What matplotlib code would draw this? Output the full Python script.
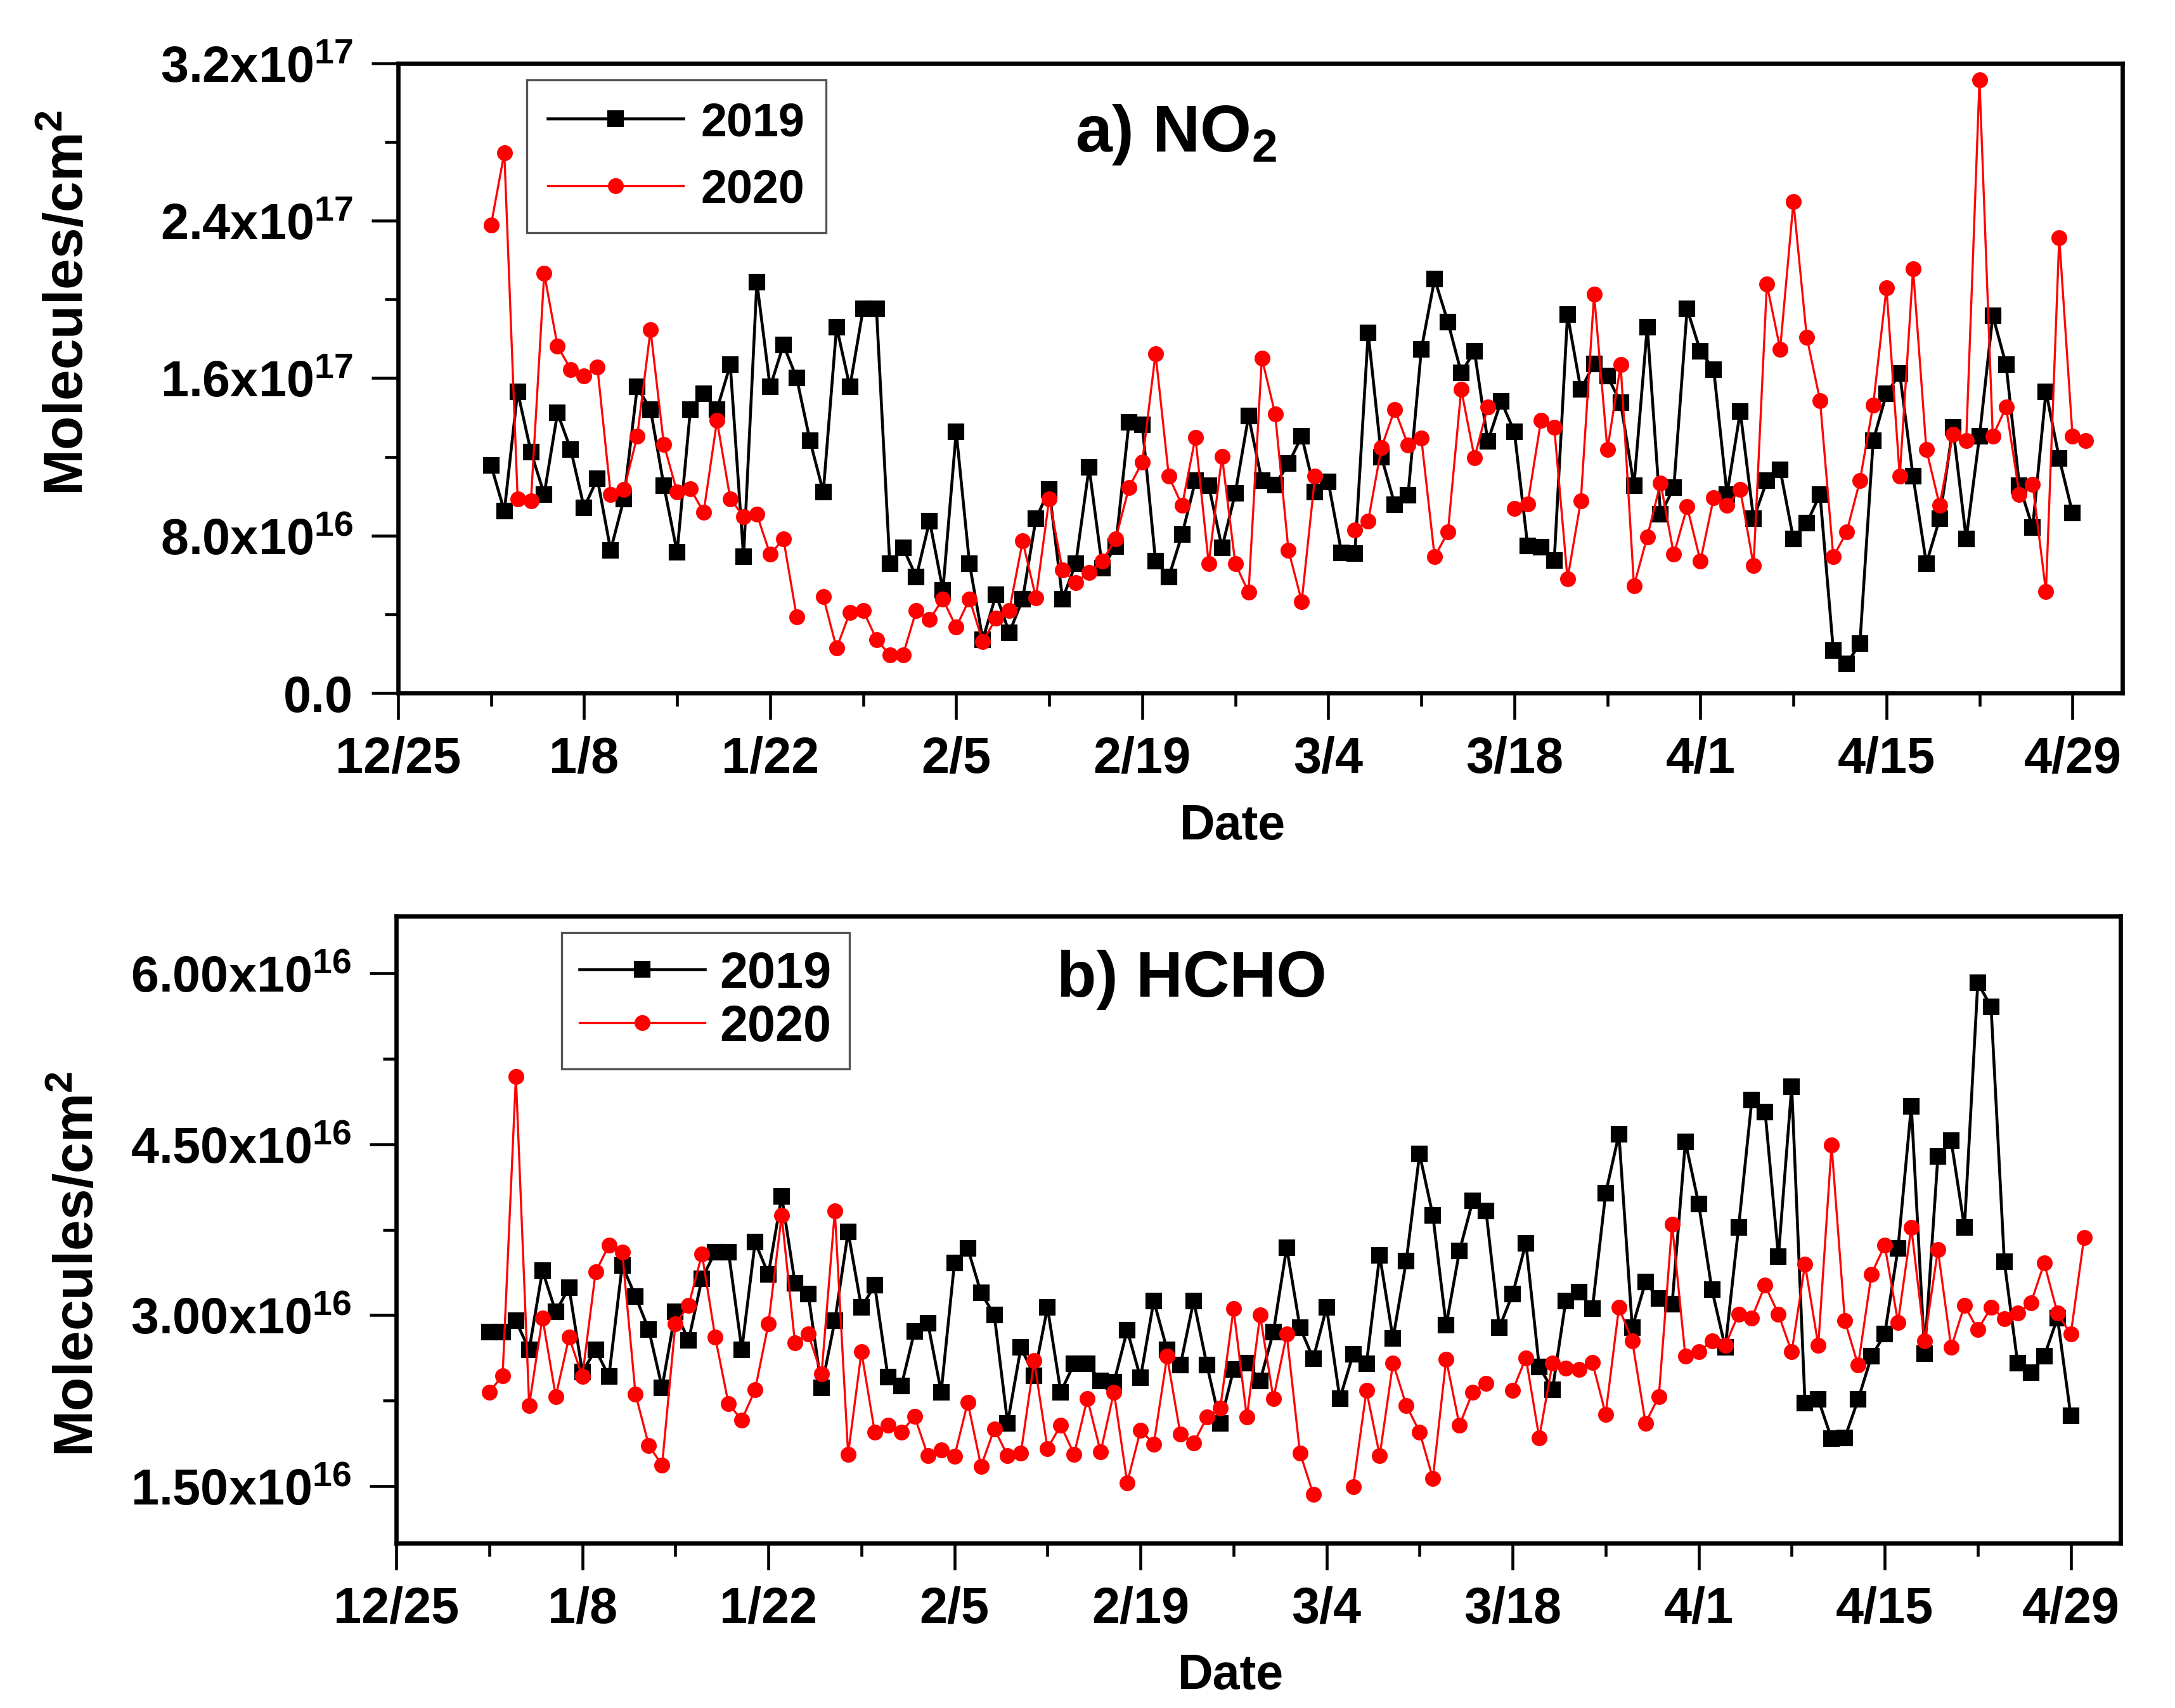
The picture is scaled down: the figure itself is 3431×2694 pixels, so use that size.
import math
import datetime as dt
import numpy as np
import matplotlib
matplotlib.use("Agg")
import matplotlib.pyplot as plt
import matplotlib.dates as mdates
from matplotlib.ticker import MultipleLocator, FixedLocator, FuncFormatter

plt.rcParams["font.family"] = ["Liberation Sans", "DejaVu Sans"]
plt.rcParams["font.weight"] = "bold"
plt.rcParams["mathtext.fontset"] = "custom"
plt.rcParams["mathtext.rm"] = "Liberation Sans:bold"
plt.rcParams["mathtext.it"] = "Liberation Sans:bold"
plt.rcParams["mathtext.bf"] = "Liberation Sans:bold"
plt.rcParams["mathtext.default"] = "rm"

nan = np.nan

# NO2 column, x1e17 molecules/cm2, one value per day from 1/1
no2_2019 = np.array([
    1.157, 0.924, 1.532, 1.226, 1.010, 1.423, 1.237, 0.942, 1.089, 0.726,
    0.987, 1.555, 1.441, 1.055, 0.715, 1.441, 1.521, 1.441, 1.668, 0.692,
    2.088, 1.555, 1.770, 1.600, 1.282, 1.021, 1.861, 1.555, 1.952, 1.952,
    0.658, 0.738, 0.590, 0.874, 0.522, 1.328, 0.658, 0.272, 0.499, 0.306,
    0.477, 0.885, 1.033, 0.477, 0.658, 1.146, 0.636, 0.745, 1.375, 1.362,
    0.670, 0.590, 0.806, 1.078, 1.055, 0.738, 1.015, 1.407, 1.078, 1.058,
    1.165, 1.305, 1.020, 1.072, 0.712, 0.710, 1.830, 1.200, 0.958, 1.005,
    1.746, 2.104, 1.886, 1.628, 1.737, 1.278, 1.483, 1.329, 0.749, 0.741,
    0.672, 1.923, 1.542, 1.673, 1.611, 1.475, 1.055, 1.861, 0.908, 1.044,
    1.952, 1.736, 1.645, 1.010, 1.430, 0.885, 1.078, 1.135, 0.783, 0.862,
    1.010, 0.216, 0.148, 0.250, 1.282, 1.521, 1.623, 1.101, 0.658, 0.885,
    1.350, 0.783, 1.305, 1.918, 1.668, 1.055, 0.840, 1.532, 1.192, 0.915,
]) * 1e17

no2_2020 = np.array([
    2.379, 2.746, 0.987, 0.976, 2.133, 1.763, 1.645, 1.611, 1.657, 1.010,
    1.033, 1.305, 1.845, 1.264, 1.021, 1.037, 0.919, 1.384, 0.987, 0.897,
    0.908, 0.704, 0.783, 0.386, nan, 0.488, 0.227, 0.409, 0.420, 0.272,
    0.193, 0.193, 0.420, 0.374, 0.477, 0.334, 0.477, 0.261, 0.379, 0.420,
    0.772, 0.483, 0.987, 0.624, 0.561, 0.613, 0.670, 0.783, 1.044, 1.173,
    1.725, 1.101, 0.953, 1.300, 0.658, 1.203, 0.658, 0.511, 1.702, 1.418,
    0.726, 0.465, 1.101, nan, nan, 0.828, 0.874, 1.248, 1.441, 1.260,
    1.294, 0.692, 0.817, 1.543, 1.196, 1.453, nan, 0.937, 0.960, 1.384,
    1.350, 0.579, 0.976, 2.027, 1.237, 1.668, 0.545, 0.794, 1.067, 0.704,
    0.946, 0.670, 0.992, 0.953, 1.033, 0.647, 2.077, 1.748, 2.497, 1.809,
    1.487, 0.692, 0.817, 1.078, 1.464, 2.059, 1.101, 2.156, 1.237, 0.953,
    1.316, 1.282, 3.116, 1.305, 1.453, 1.010, 1.060, 0.515, 2.315, 1.305,
    1.282,
]) * 1e17

# HCHO column, x1e16 molecules/cm2
hcho_2019 = np.array([
    2.853, 2.853, 2.950, 2.697, 3.391, 3.028, 3.243, 2.502, 2.697, 2.463,
    3.438, 3.165, 2.872, 2.365, 3.028, 2.782, 3.320, 3.555, 3.555, 2.697,
    3.640, 3.360, 4.042, 3.282, 3.184, 2.365, 2.950, 3.730, 3.067, 3.262,
    2.455, 2.377, 2.860, 2.930, 2.326, 3.457, 3.586, 3.196, 3.000, 2.053,
    2.716, 2.470, 3.067, 2.326, 2.572, 2.572, 2.424, 2.410, 2.868, 2.450,
    3.126, 2.697, 2.560, 3.126, 2.560, 2.053, 2.521, 2.580, 2.424, 2.853,
    3.594, 2.892, 2.619, 3.067, 2.268, 2.658, 2.572, 3.523, 2.794, 3.477,
    4.413, 3.874, 2.911, 3.562, 4.003, 3.913, 2.892, 3.184, 3.633, 2.548,
    2.346, 3.126, 3.204, 3.055, 4.069, 4.588, 2.892, 3.289, 3.145, 3.094,
    4.522, 3.976, 3.223, 2.716, 3.769, 4.888, 4.783, 3.516, 5.005, 2.229,
    2.260, 1.917, 1.924, 2.260, 2.638, 2.833, 3.586, 4.834, 2.665, 4.393,
    4.530, 3.769, 5.914, 5.708, 3.469, 2.580, 2.494, 2.638, 2.977, 2.119,
]) * 1e16

hcho_2020 = np.array([
    2.326, 2.470, 5.095, 2.209, 2.977, 2.287, 2.806, 2.463, 3.379, 3.613,
    3.555, 2.307, 1.858, 1.683, 2.923, 3.087, 3.535, 2.806, 2.221, 2.080,
    2.346, 2.923, 3.874, 2.755, 2.833, 2.482, 3.913, 1.780, 2.677, 1.975,
    2.034, 1.975, 2.112, 1.768, 1.819, 1.761, 2.236, 1.675, 2.002, 1.768,
    1.792, 2.599, 1.831, 2.034, 1.780, 2.268, 1.800, 2.326, 1.530, 1.990,
    1.870, 2.638, 1.956, 1.878, 2.104, 2.182, 3.055, 2.104, 3.000, 2.268,
    2.833, 1.792, 1.429, nan, nan, 1.495, 2.338, 1.768, 2.580, 2.209,
    1.975, 1.566, 2.611, 2.034, 2.326, 2.404, nan, 2.338, 2.626, 1.924,
    2.580, 2.533, 2.521, 2.587, 2.131, 3.067, 2.775, 2.053, 2.287, 3.796,
    2.638, 2.677, 2.775, 2.736, 3.009, 2.977, 3.262, 3.009, 2.677, 3.445,
    2.736, 4.491, 2.950, 2.560, 3.360, 3.613, 2.938, 3.769, 2.775, 3.574,
    2.716, 3.087, 2.872, 3.067, 2.970, 3.016, 3.106, 3.457, 3.016, 2.833,
    3.680,
]) * 1e16

START = dt.datetime(2020, 1, 1)
X0 = mdates.date2num(dt.datetime(2019, 12, 25))


def days(n):
    return [START + dt.timedelta(days=i) for i in range(n)]


def sci_label(decimals):
    def f(v, pos):
        if abs(v) < 1:
            return "0.0"
        e = int(math.floor(math.log10(abs(v)) + 1e-9))
        return f"{v / 10**e:.{decimals}f}x10$^{{{e}}}$"
    return FuncFormatter(f)


def date_label(v, pos):
    d = mdates.num2date(v)
    return f"{d.month}/{d.day}"


def style_axes(ax):
    ax.set_xlim(X0, X0 + 129.75)
    ax.xaxis.set_major_locator(FixedLocator(X0 + np.arange(0, 130, 14)))
    ax.xaxis.set_minor_locator(FixedLocator(X0 + np.arange(0, 130, 7)))
    ax.xaxis.set_major_formatter(FuncFormatter(date_label))
    ax.tick_params(which="major", direction="out", length=10, width=1.1,
                   labelsize=19, pad=6)
    ax.tick_params(which="minor", direction="out", length=5, width=1.1)
    ax.tick_params(axis="y", which="major", pad=7)
    for s in ax.spines.values():
        s.set_linewidth(1.6)
    ax.set_xlabel("Date", fontsize=18.5, fontweight="bold")
    ax.xaxis.set_label_coords(0.484, -0.174)


fig = plt.figure(figsize=(3431 / 300, 2695 / 300), dpi=300)

# a) NO2
ax1 = fig.add_axes([0.1830, 0.5941, 0.7928, 0.3684])
ax1.plot(days(len(no2_2019)), no2_2019, color="black", lw=1.1,
         marker="s", ms=5.5, label="2019")
ax1.plot(days(len(no2_2020)), no2_2020, color="red", lw=0.8,
         marker="o", ms=5.0, label="2020")
style_axes(ax1)
ax1.set_ylim(0, 3.2e17)
ax1.yaxis.set_major_locator(MultipleLocator(8e16))
ax1.yaxis.set_minor_locator(MultipleLocator(4e16))
ax1.yaxis.set_major_formatter(sci_label(1))
ax1.set_ylabel("Molecules/cm$^2$", fontsize=21, fontweight="bold")
ax1.yaxis.set_label_coords(-0.176, 0.62)
ax1.text(0.3926, 0.861, "a) NO$_2$", transform=ax1.transAxes,
         fontsize=25, fontweight="bold", va="baseline")
leg = ax1.legend(loc="upper left", bbox_to_anchor=(0.0746, 0.974),
                 borderaxespad=0, fontsize=17.7, handlelength=2.9,
                 handletextpad=0.38, labelspacing=0.5, borderpad=0.45,
                 fancybox=False, framealpha=1, edgecolor="#555555")
leg.get_frame().set_linewidth(0.8)

# b) HCHO
ax2 = fig.add_axes([0.1822, 0.0965, 0.7928, 0.3669])
ax2.plot(days(len(hcho_2019)), hcho_2019, color="black", lw=1.1,
         marker="s", ms=5.5, label="2019")
ax2.plot(days(len(hcho_2020)), hcho_2020, color="red", lw=0.8,
         marker="o", ms=5.0, label="2020")
style_axes(ax2)
ax2.set_ylim(1.0e16, 6.5e16)
ax2.yaxis.set_major_locator(MultipleLocator(1.5e16))
ax2.yaxis.set_minor_locator(MultipleLocator(0.75e16))
ax2.yaxis.set_major_formatter(sci_label(2))
ax2.set_ylabel("Molecules/cm$^2$", fontsize=21, fontweight="bold")
ax2.yaxis.set_label_coords(-0.169, 0.446)
ax2.text(0.383, 0.873, "b) HCHO", transform=ax2.transAxes,
         fontsize=24.5, fontweight="bold", va="baseline")
leg = ax2.legend(loc="upper left", bbox_to_anchor=(0.096, 0.974),
                 borderaxespad=0, fontsize=19, handlelength=2.5,
                 handletextpad=0.3, labelspacing=0.12, borderpad=0.35,
                 fancybox=False, framealpha=1, edgecolor="#555555")
leg.get_frame().set_linewidth(0.8)

plt.savefig("out.png", dpi=300)
plt.close()
